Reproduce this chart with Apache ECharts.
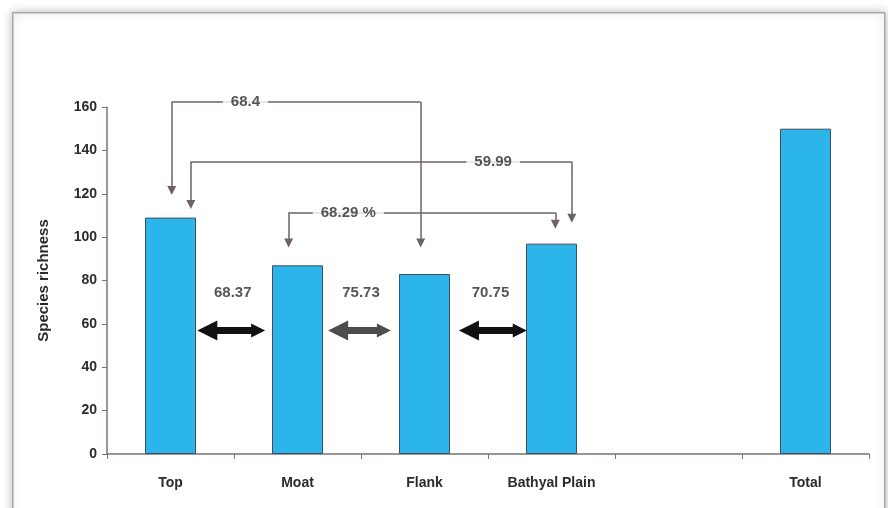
<!DOCTYPE html>
<html>
<head>
<meta charset="utf-8">
<script src="https://cdn.jsdelivr.net/npm/echarts@6/dist/echarts.min.js"></script>
<style>
html,body{margin:0;padding:0;background:#fff;}
#chart{width:888px;height:508px;}
</style>
</head>
<body>
<div id="chart"></div>
<script>
// ---- data ----
const categories = ['Top', 'Moat', 'Flank', 'Bathyal Plain', '', 'Total'];
const richness = [109, 87, 83, 97, null, 150];
const yTicks = [0, 20, 40, 60, 80, 100, 120, 140, 160];

// similarity brackets (category-index x, richness y), label text
const bracketLabels = ['68.4', '59.99', '68.29 %'];
const bracketLevels = [162.3, 134.7, 111.3];
const bracketFromX = [0.01, 0.16, 0.93];
const bracketToX = [1.97, 3.16, 3.03];
const bracketFromTip = [121.5, 115.1, 97.3];
const bracketToTip = [97.3, 108.7, 105.9];
const bracketLabelX = [0.59, 2.54, 1.40];

// adjacent similarity (double arrows between neighbours)
const pairLabels = ['68.37', '75.73', '70.75'];
const pairFromX = [0.29, 1.32, 2.35];
const pairToX = [0.69, 1.68, 2.75];
const pairLabelX = [0.49, 1.5, 2.52];
const pairLevel = 57;
const pairLabelLevel = 74.5;

// ---- build ----
const lineColor = '#6e6360';
const segData = [];
const arrowData = [];
for (let i = 0; i < bracketLabels.length; i++) {
  const y = bracketLevels[i];
  segData.push({coords: [[bracketFromX[i], y], [bracketToX[i], y]]});
  arrowData.push({coords: [[bracketFromX[i], y], [bracketFromX[i], bracketFromTip[i]]]});
  arrowData.push({coords: [[bracketToX[i], y], [bracketToX[i], bracketToTip[i]]]});
}
const pairColors = ['#111111', '#4d4d4d', '#111111'];
const pairData = pairLabels.map((_, i) => ({
  coords: [[pairFromX[i], pairLevel], [pairToX[i], pairLevel]],
  lineStyle: {color: pairColors[i]}
}));
const textStyle = {fontFamily: 'Liberation Sans, Arial, sans-serif', fontWeight: 'bold', fontSize: 15, color: '#2b2b2b'};

const chart = echarts.init(document.getElementById('chart'));
chart.setOption({
  animation: false,
  backgroundColor: '#ffffff',
  graphic: [{
    type: 'rect', left: 12, top: 12, z: -10,
    shape: {width: 872, height: 510},
    style: {fill: '#ffffff', stroke: '#a8a8a8', lineWidth: 1.5, shadowBlur: 10, shadowColor: 'rgba(0,0,0,0.25)'}
  }],
  grid: {left: 107, right: 19, top: 107, bottom: 54},
  xAxis: [{
    type: 'category', data: categories,
    axisLine: {onZero: false, lineStyle: {color: '#7a7370', width: 1.5}},
    axisTick: {show: true, length: 5, lineStyle: {color: '#7a7370'}},
    axisLabel: {margin: 22, fontFamily: 'Liberation Sans, Arial, sans-serif', fontWeight: 'bold', fontSize: 14, color: '#2b2b2b', interval: 0}
  }, {
    type: 'value', min: -0.5, max: 5.5, show: false
  }],
  yAxis: {
    type: 'value', min: 0, max: 160, interval: 20,
    name: 'Species richness', nameLocation: 'middle', nameGap: 56,
    nameTextStyle: {fontFamily: 'Liberation Sans, Arial, sans-serif', fontWeight: 'bold', fontSize: 15, color: '#2b2b2b'},
    axisLine: {show: true, onZero: false, lineStyle: {color: '#7a7370', width: 1.5}},
    axisTick: {show: true, length: 5, lineStyle: {color: '#7a7370'}},
    splitLine: {show: false},
    axisLabel: {margin: 10, fontFamily: 'Liberation Sans, Arial, sans-serif', fontWeight: 'bold', fontSize: 14, color: '#2b2b2b',
      formatter: v => yTicks.indexOf(v) >= 0 ? String(v) : ''}
  },
  series: [{
    type: 'bar', data: richness, barWidth: 51, xAxisIndex: 0,
    itemStyle: {color: '#2cb5ea', borderColor: '#3f4f5c', borderWidth: 1}
  }, {
    type: 'lines', coordinateSystem: 'cartesian2d', xAxisIndex: 1, yAxisIndex: 0, clip: false,
    data: segData, symbol: 'none',
    lineStyle: {color: lineColor, width: 1.5, opacity: 1}, z: 3
  }, {
    type: 'lines', coordinateSystem: 'cartesian2d', xAxisIndex: 1, yAxisIndex: 0, clip: false,
    data: arrowData, symbol: ['none', 'triangle'], symbolSize: [9, 9],
    lineStyle: {color: lineColor, width: 1.5, opacity: 1}, z: 3
  }, {
    type: 'lines', coordinateSystem: 'cartesian2d', xAxisIndex: 1, yAxisIndex: 0, clip: false,
    data: pairData, symbol: ['triangle', 'triangle'], symbolSize: [20, 14],
    lineStyle: {width: 7, opacity: 1}, z: 3
  }, {
    type: 'scatter', xAxisIndex: 1, yAxisIndex: 0, symbolSize: 0, z: 5, clip: false,
    data: bracketLabels.map((t, i) => ({value: [bracketLabelX[i], bracketLevels[i]], name: t})),
    label: Object.assign({show: true, position: 'inside', formatter: p => p.name,
      backgroundColor: '#ffffff', padding: [2, 8]}, textStyle)
  }, {
    type: 'scatter', xAxisIndex: 1, yAxisIndex: 0, symbolSize: 0, z: 5, clip: false,
    data: pairLabels.map((t, i) => ({value: [pairLabelX[i], pairLabelLevel], name: t})),
    label: Object.assign({show: true, position: 'inside', formatter: p => p.name}, textStyle)
  }]
});
</script>
</body>
</html>
